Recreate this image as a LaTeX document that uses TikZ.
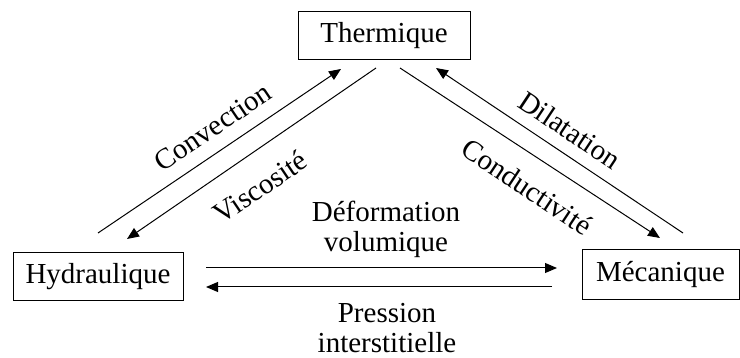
\documentclass[tikz,border=0pt]{standalone}
\usepackage{fontspec}
\setmainfont{Liberation Serif}
\usetikzlibrary{arrows.meta}

\begin{document}
\begin{tikzpicture}[x=1pt,y=-1pt,line width=1pt,
            font=\fontsize{29}{30}\selectfont,
            bloc/.style = {draw,
                minimum height=48pt,
                inner sep=0pt,
                },
            fleche/.style = {-{Triangle[length=12pt,width=10pt]}}]
        
        \useasboundingbox (0,0) rectangle (740,358);
        
        % Blocs
        \node[bloc,minimum width=172pt] (T) at (384,36) {Thermique};
        \node[bloc,minimum width=170pt] (H) at (98,277) {Hydraulique};
        \node[bloc,minimum width=157pt,minimum height=50pt] (M) at (660.5,275) {Mécanique};
        
        % Extremites des fleches
        \coordinate (Hc) at (98,233);
        \coordinate (Tc) at (341,69);
        \coordinate (Tv) at (376,68);
        \coordinate (Hv) at (127,239);
        \coordinate (Tk) at (400,68);
        \coordinate (Mk) at (660,238);
        \coordinate (Md) at (683,233);
        \coordinate (Td) at (436,68);
        \coordinate (Hf) at (206,268);
        \coordinate (Mf) at (557,268);
        \coordinate (Mp) at (552,287);
        \coordinate (Hp) at (206,287);
        
        % Hydraulique - Thermique
        \draw[fleche] (Hc) -- (Tc);
        \draw[fleche] (Tv) -- (Hv);
        \node[rotate=34] (conv) at (213,127) {Convection};
        \node[rotate=34] (visc) at (260,187) {Viscosité};
        
        % Thermique - Mecanique
        \draw[fleche] (Tk) -- (Mk);
        \draw[fleche] (Md) -- (Td);
        \node[rotate=-33.5] (dila) at (570,130) {Dilatation};
        \node[rotate=-33.5] (cond) at (527,187) {Conductivité};
        
        % Hydraulique - Mecanique
        \draw[fleche] (Hf) -- (Mf);
        \draw[fleche] (Mp) -- (Hp);
        \node[align=center] (defo) at (386,229.5) {Déformation\\volumique};
        \node[align=center] (pres) at (387,328) {Pression\\interstitielle};
        
        \end{tikzpicture}
\end{document}
